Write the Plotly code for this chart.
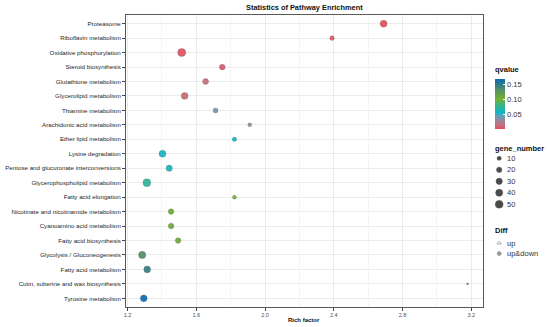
import plotly.graph_objects as go
import numpy as np

pathways = [
    "Proteasome", "Riboflavin metabolism", "Oxidative phosphorylation",
    "Steroid biosynthesis", "Glutathione metabolism", "Glycerolipid metabolism",
    "Thiamine metabolism", "Arachidonic acid metabolism", "Ether lipid metabolism",
    "Lysine degradation", "Pentose and glucuronate interconversions",
    "Glycerophospholipid metabolism", "Fatty acid elongation",
    "Nicotinate and nicotinamide metabolism", "Cyanoamino acid metabolism",
    "Fatty acid biosynthesis", "Glycolysis / Gluconeogenesis",
    "Fatty acid metabolism", "Cutin, suberine and wax biosynthesis",
    "Tyrosine metabolism",
]
rich_factor = [2.69, 2.39, 1.515, 1.751, 1.654, 1.532, 1.712, 1.911, 1.822,
               1.403, 1.442, 1.312, 1.822, 1.453, 1.453, 1.494, 1.285, 1.314,
               3.179, 1.294]
gene_number = [40, 14, 55, 26, 28, 38, 18, 10, 13, 40, 31, 52, 10, 24, 24, 24,
               44, 38, 1, 38]
qvalue = [0.001, 0.004, 0.002, 0.006, 0.014, 0.012, 0.036, 0.030, 0.055,
          0.055, 0.060, 0.074, 0.100, 0.106, 0.106, 0.108, 0.132, 0.148,
          0.158, 0.168]
diff = ["up&down"] * len(pathways)

size_legend_values = [10, 20, 30, 40, 50]
size_legend_labels = ["10", "20", "30", "40", "50"]
diff_levels = ["up", "up&down"]
q_ticks = [0.05, 0.10, 0.15]
q_ticklabels = ["0.05", "0.10", "0.15"]
x_ticks = [1.2, 1.6, 2.0, 2.4, 2.8, 3.2]
x_ticklabels = ["1.2", "1.6", "2.0", "2.4", "2.8", "3.2"]

FONT = "Liberation Sans, Arial, sans-serif"
W, H = 550, 327


def size_px(n):
    return 1.0 + 0.946 * np.sqrt(np.asarray(n, dtype=float))


colorscale = [
    [0.00, "#E0505F"],
    [0.08, "#C46E7C"],
    [0.17, "#98899A"],
    [0.25, "#6A9EB0"],
    [0.33, "#12B5C8"],
    [0.46, "#34B38C"],
    [0.60, "#74B030"],
    [0.80, "#508C6A"],
    [1.00, "#0A6AB0"],
]

fig = go.Figure()

fig.add_trace(go.Scatter(
    x=rich_factor, y=pathways, mode="markers",
    marker=dict(
        size=size_px(gene_number), color=qvalue, colorscale=colorscale,
        cmin=min(qvalue), cmax=max(qvalue), opacity=0.92,
        line=dict(width=0.6, color="rgba(60,60,60,0.35)"),
        symbol=["circle" if d == "up&down" else "triangle-up" for d in diff],
        colorbar=dict(
            x=495 / W, xanchor="left", y=1 - 104 / H, yanchor="middle",
            len=50, lenmode="pixels", thickness=10, xpad=0, ypad=0,
            outlinewidth=0, tickvals=q_ticks, ticktext=q_ticklabels,
            ticks="inside", ticklen=2, tickcolor="white",
            tickfont=dict(size=7.5, color="#333333", family=FONT),
        ),
    ),
    showlegend=False, xaxis="x", yaxis="y",
))

# legend symbols drawn in a pixel-coordinate helper subplot
leg_x = 499
size_y0, size_step = 158.3, 11.5
fig.add_trace(go.Scatter(
    x=[leg_x] * len(size_legend_values),
    y=[size_y0 + i * size_step for i in range(len(size_legend_values))],
    mode="markers",
    marker=dict(size=size_px(size_legend_values), color="black",
                line=dict(width=0.6, color="black")),
    showlegend=False, xaxis="x2", yaxis="y2", hoverinfo="skip",
))
diff_y0, diff_step = 243, 10.5
fig.add_trace(go.Scatter(
    x=[leg_x] * len(diff_levels),
    y=[diff_y0 + i * diff_step for i in range(len(diff_levels))],
    mode="markers",
    marker=dict(size=4, color="#9A9A9A",
                symbol=["triangle-up-open", "circle"],
                line=dict(width=0.8, color="#9A9A9A")),
    showlegend=False, xaxis="x2", yaxis="y2", hoverinfo="skip",
))

annotations = [
    dict(text="<b>Statistics of Pathway Enrichment</b>", x=303.5 / W, y=1 - 7.5 / H,
         xref="paper", yref="paper", xanchor="center", yanchor="middle",
         showarrow=False, font=dict(size=7.4, color="#111111", family=FONT)),
    dict(text="<b>Rich factor</b>", x=303.5 / W, y=1 - 320 / H,
         xref="paper", yref="paper", xanchor="center", yanchor="middle",
         showarrow=False, font=dict(size=6, color="#111111", family=FONT)),
    dict(text="<b>qvalue</b>", x=493 / W, y=1 - 69 / H,
         xref="paper", yref="paper", xanchor="left", yanchor="middle",
         showarrow=False, font=dict(size=7.5, color="#111111", family=FONT)),
    dict(text="<b>gene_number</b>", x=493 / W, y=1 - 148.5 / H,
         xref="paper", yref="paper", xanchor="left", yanchor="middle",
         showarrow=False, font=dict(size=7.5, color="#111111", family=FONT)),
    dict(text="<b>Diff</b>", x=493 / W, y=1 - 230 / H,
         xref="paper", yref="paper", xanchor="left", yanchor="middle",
         showarrow=False, font=dict(size=7.5, color="#111111", family=FONT)),
]
for i, lab in enumerate(size_legend_labels):
    annotations.append(dict(text=lab, x=505 / W, y=1 - (size_y0 + i * size_step) / H,
                            xref="paper", yref="paper", xanchor="left", yanchor="middle",
                            showarrow=False, font=dict(size=7.5, color="#333333", family=FONT)))
for i, lab in enumerate(diff_levels):
    annotations.append(dict(text=lab, x=505 / W, y=1 - (diff_y0 + i * diff_step) / H,
                            xref="paper", yref="paper", xanchor="left", yanchor="middle",
                            showarrow=False, font=dict(size=7.5, color="#333333", family=FONT)))

fig.update_layout(
    width=W, height=H,
    margin=dict(l=0, r=0, t=0, b=0, pad=0),
    paper_bgcolor="white", plot_bgcolor="rgba(0,0,0,0)",
    font=dict(family=FONT, color="#333333"),
    annotations=annotations,
    xaxis=dict(
        domain=[124 / W, 483 / W], anchor="y",
        range=[1.188, 3.27], tickvals=x_ticks, ticktext=x_ticklabels,
        showgrid=True, gridcolor="#EBEBEB", gridwidth=0.8,
        minor=dict(tickvals=[1.4, 1.8, 2.2, 2.6, 3.0], showgrid=True,
                   gridcolor="#F5F5F5", gridwidth=0.6, ticks=""),
        ticks="outside", ticklen=2.5, tickcolor="#444444", tickwidth=0.8,
        tickfont=dict(size=5.5, color="#4D4D4D", family=FONT),
        showline=True, linecolor="#5a5a5a", linewidth=1, mirror=True,
        zeroline=False, fixedrange=True,
    ),
    yaxis=dict(
        domain=[20 / H, 312 / H], anchor="x",
        type="category", categoryorder="array", categoryarray=pathways,
        range=[len(pathways) - 1 + 0.6, -0.6],
        showgrid=True, gridcolor="#EBEBEB", gridwidth=0.8,
        ticks="outside", ticklen=2.5, tickcolor="#444444", tickwidth=0.8,
        tickfont=dict(size=6.2, color="#262626", family=FONT),
        showline=True, linecolor="#5a5a5a", linewidth=1, mirror=True,
        zeroline=False, fixedrange=True,
    ),
    xaxis2=dict(domain=[0, 1], anchor="y2", range=[0, W], visible=False,
                fixedrange=True),
    yaxis2=dict(domain=[0, 1], anchor="x2", range=[H, 0], visible=False,
                fixedrange=True),
)

fig.write_html(
    "out.html",
    config={"displayModeBar": False},
    post_script="document.body.style.margin='0';document.body.style.overflow='hidden';",
)
